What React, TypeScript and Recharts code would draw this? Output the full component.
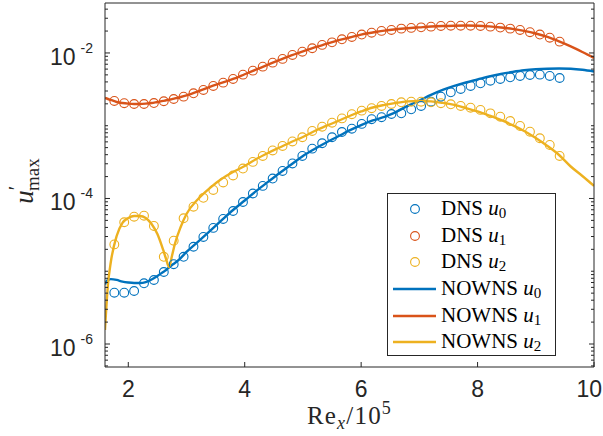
import React from 'react';
import { ComposedChart, Line, Scatter, XAxis, YAxis, Legend } from 'recharts';

const BLUE = '#0072BD';
const ORANGE = '#D95319';
const YELLOW = '#EDB120';
const AXIS = '#262626';
const SERIF = '"Liberation Serif", "Times New Roman", serif';
const SANS = '"Liberation Sans", Arial, Helvetica, sans-serif';

const CHART_W = 603;
const CHART_H = 436;
const X_DOMAIN = [1.6, 10];
const Y_DOMAIN = [4.83e-7, 4.86e-2];

const xTicks = [2, 4, 6, 8, 10];
const topTicks = [2, 4, 6, 8];
const yTicks = [1e-6, 1e-4, 1e-2];
const yTickExp = ['-6', '-4', '-2'];

// DNS sample positions (Re_x / 1e5)
const dnsX = [
  1.76, 1.93, 2.1, 2.27, 2.44, 2.61, 2.78, 2.95, 3.12, 3.29, 3.46, 3.63, 3.8, 3.97, 4.14, 4.31,
  4.48, 4.65, 4.82, 4.99, 5.16, 5.33, 5.5, 5.67, 5.84, 6.01, 6.18, 6.35, 6.52, 6.69, 6.86, 7.03,
  7.2, 7.37, 7.54, 7.71, 7.88, 8.05, 8.22, 8.39, 8.56, 8.73, 8.9, 9.07, 9.24, 9.41,
];

const dnsU0 = [
  5.07e-6, 5.07e-6, 5.35e-6, 6.83e-6, 7.58e-6, 9.77e-6, 1.25e-5, 1.58e-5, 2.17e-5, 2.96e-5,
  3.94e-5, 5.23e-5, 6.73e-5, 8.95e-5, 1.17e-4, 1.49e-4, 1.88e-4, 2.39e-4, 3.03e-4, 3.84e-4,
  4.84e-4, 5.74e-4, 6.94e-4, 8.2e-4, 9.1e-4, 1.06e-3, 1.23e-3, 1.31e-3, 1.45e-3, 1.48e-3,
  1.68e-3, 1.87e-3, 2.14e-3, 2.51e-3, 2.88e-3, 3.2e-3, 3.52e-3, 3.83e-3, 4.16e-3, 4.39e-3,
  4.63e-3, 4.83e-3, 4.98e-3, 5.03e-3, 4.83e-3, 4.53e-3,
];

const dnsU1 = [
  2.19e-3, 2.04e-3, 1.99e-3, 1.99e-3, 2.05e-3, 2.17e-3, 2.33e-3, 2.51e-3, 2.79e-3, 3.1e-3,
  3.52e-3, 3.91e-3, 4.39e-3, 5.03e-3, 5.71e-3, 6.48e-3, 7.36e-3, 8.28e-3, 9.39e-3, 1.04e-2,
  1.16e-2, 1.29e-2, 1.4e-2, 1.54e-2, 1.66e-2, 1.79e-2, 1.9e-2, 2.01e-2, 2.07e-2, 2.16e-2,
  2.21e-2, 2.25e-2, 2.3e-2, 2.35e-2, 2.37e-2, 2.37e-2, 2.37e-2, 2.35e-2, 2.3e-2, 2.23e-2,
  2.16e-2, 2.07e-2, 1.93e-2, 1.79e-2, 1.62e-2, 1.43e-2,
];

const dnsU2 = [
  2.34e-5, 4.71e-5, 5.62e-5, 5.8e-5, 4.19e-5, 1.58e-5, 2.63e-5, 5.34e-5, 7.71e-5, 1.02e-4,
  1.31e-4, 1.66e-4, 2.07e-4, 2.58e-4, 3.18e-4, 3.84e-4, 4.57e-4, 5.27e-4, 6.08e-4, 6.94e-4,
  8.47e-4, 9.7e-4, 1.1e-3, 1.26e-3, 1.44e-3, 1.61e-3, 1.74e-3, 1.87e-3, 1.99e-3, 2.1e-3,
  2.14e-3, 2.14e-3, 2.1e-3, 2.04e-3, 1.97e-3, 1.87e-3, 1.77e-3, 1.65e-3, 1.48e-3, 1.33e-3,
  1.16e-3, 9.93e-4, 8.28e-4, 6.73e-4, 5.44e-4, 3.84e-4,
];

// NOWNS curve positions
const lineX = [
  1.6, 1.65, 1.7, 1.8, 1.9, 2.0, 2.1, 2.2, 2.3, 2.4, 2.5, 2.6, 2.65, 2.7, 2.75, 2.8, 2.9,
  3.0, 3.2, 3.4, 3.6, 3.8, 4.0, 4.2, 4.4, 4.6, 4.8, 5.0, 5.2, 5.4, 5.6, 5.8, 6.0, 6.2, 6.4,
  6.6, 6.8, 7.0, 7.2, 7.4, 7.6, 7.8, 8.0, 8.2, 8.4, 8.6, 8.8, 9.0, 9.2, 9.4, 9.6, 9.8, 10.0,
];

const nownsU0 = [
  6.6e-6, 7.6e-6, 7.8e-6, 7.6e-6, 7.2e-6, 7.0e-6, 6.9e-6, 6.9e-6, 7.1e-6, 7.7e-6, 8.6e-6,
  9.8e-6, 1.04e-5, 1.13e-5, 1.22e-5, 1.3e-5, 1.52e-5,
  1.84e-5, 2.56e-5, 3.57e-5, 4.99e-5, 6.95e-5, 9.39e-5, 1.27e-4, 1.69e-4, 2.24e-4, 2.93e-4,
  3.84e-4, 4.79e-4, 5.89e-4, 7.11e-4, 8.61e-4, 1.02e-3, 1.18e-3, 1.32e-3, 1.55e-3, 1.87e-3,
  2.22e-3, 2.65e-3, 3.1e-3, 3.52e-3, 3.93e-3, 4.32e-3, 4.75e-3, 5.14e-3, 5.48e-3, 5.78e-3,
  5.97e-3, 6.08e-3, 6.12e-3, 6.06e-3, 5.87e-3, 5.57e-3,
];

const nownsU1 = [
  2.41e-3, 2.33e-3, 2.26e-3, 2.12e-3, 2.05e-3, 2.01e-3, 1.99e-3, 1.99e-3, 2.01e-3, 2.05e-3,
  2.12e-3, 2.19e-3, 2.24e-3, 2.28e-3, 2.32e-3, 2.37e-3, 2.48e-3,
  2.61e-3, 2.96e-3, 3.41e-3, 3.87e-3, 4.39e-3, 5.1e-3, 5.93e-3, 6.9e-3, 8.01e-3, 9.25e-3,
  1.05e-2, 1.19e-2, 1.33e-2, 1.49e-2, 1.63e-2, 1.79e-2, 1.91e-2, 2.03e-2, 2.12e-2, 2.19e-2,
  2.25e-2, 2.31e-2, 2.35e-2, 2.37e-2, 2.38e-2, 2.37e-2, 2.32e-2, 2.24e-2, 2.14e-2, 2.01e-2,
  1.85e-2, 1.66e-2, 1.44e-2, 1.23e-2, 1.03e-2, 8.54e-3,
];

const nownsU2 = [
  1.56e-6, 6.47e-6, 1.34e-5, 3.05e-5, 4.61e-5, 5.4e-5, 5.75e-5, 5.75e-5, 5.4e-5, 4.46e-5,
  3.25e-5, 1.96e-5, 1.47e-5, 1.14e-5, 1.62e-5, 2.37e-5, 4.06e-5,
  6.12e-5, 9.84e-5, 1.39e-4, 1.85e-4, 2.31e-4, 2.8e-4, 3.49e-4, 4.22e-4, 5.02e-4, 5.98e-4,
  7.0e-4, 8.47e-4, 9.93e-4, 1.16e-3, 1.36e-3, 1.57e-3, 1.78e-3, 1.93e-3, 2.06e-3, 2.16e-3,
  2.19e-3, 2.16e-3, 2.06e-3, 1.93e-3, 1.75e-3, 1.57e-3, 1.38e-3, 1.2e-3, 1.02e-3, 8.47e-4,
  6.79e-4, 5.27e-4, 3.96e-4, 2.75e-4, 2.04e-4, 1.49e-4,
];

const dns0 = dnsX.map((x, i) => ({ x, y: dnsU0[i] }));
const dns1 = dnsX.map((x, i) => ({ x, y: dnsU1[i] }));
const dns2 = dnsX.map((x, i) => ({ x, y: dnsU2[i] }));
const lineData = lineX.map((x, i) => ({ x, u0: nownsU0[i], u1: nownsU1[i], u2: nownsU2[i] }));

// log minor ticks m x 10^k inside the domain (labelled decades excluded)
const minorTicks: number[] = [];
for (let k = -7; k <= -2; k++) {
  for (let m = 1; m <= 9; m++) {
    const v = m * Math.pow(10, k);
    if (v >= Y_DOMAIN[0] && v <= Y_DOMAIN[1] && !yTicks.some((t) => Math.abs(t - v) / t < 1e-9)) {
      minorTicks.push(v);
    }
  }
}
const allYTicks = [...yTicks, ...minorTicks].sort((a, b) => a - b);

const isMajor = (v: number) => yTicks.findIndex((t) => Math.abs(t - v) / t < 1e-9);

const legendItems = [
  { kind: 'dot', color: BLUE, name: 'DNS', sub: '0' },
  { kind: 'dot', color: ORANGE, name: 'DNS', sub: '1' },
  { kind: 'dot', color: YELLOW, name: 'DNS', sub: '2' },
  { kind: 'line', color: BLUE, name: 'NOWNS', sub: '0' },
  { kind: 'line', color: ORANGE, name: 'NOWNS', sub: '1' },
  { kind: 'line', color: YELLOW, name: 'NOWNS', sub: '2' },
];

const circle = (color: string) => (props: any) => (
  <circle cx={props.cx} cy={props.cy} r={4.4} fill="none" stroke={color} strokeWidth={1.1} />
);

function LeftTick(props: any) {
  const { x, y, payload } = props;
  const idx = isMajor(payload.value);
  return (
    <g>
      <line x1={x} x2={x + (idx >= 0 ? 5 : 3)} y1={y} y2={y} stroke={AXIS} strokeWidth={1} />
      {idx >= 0 && (
        <text x={x - 12} y={y + 12} textAnchor="end" fill={AXIS} fontFamily={SANS}>
          <tspan fontSize={23}>10</tspan>
          <tspan fontSize={14} dx={5} dy={-12}>
            {yTickExp[idx]}
          </tspan>
        </text>
      )}
    </g>
  );
}

function RightTick(props: any) {
  const { x, y, payload } = props;
  const len = isMajor(payload.value) >= 0 ? 5 : 3;
  return <line x1={x} x2={x - len} y1={y} y2={y} stroke={AXIS} strokeWidth={1} />;
}

function BottomTick(props: any) {
  const { x, y, payload } = props;
  const label = String(payload.value);
  // keep the last label inside the picture
  const half = label.length * 6.5;
  const atEdge = x + half > CHART_W - 1;
  return (
    <g>
      <line x1={x} x2={x} y1={y} y2={y - 5} stroke={AXIS} strokeWidth={1} />
      <text
        x={atEdge ? CHART_W - 1 : x}
        y={y + 30}
        textAnchor={atEdge ? 'end' : 'middle'}
        fill={AXIS}
        fontFamily={SANS}
        fontSize={23}
      >
        {label}
      </text>
    </g>
  );
}

function TopTick(props: any) {
  const { x, y } = props;
  return <line x1={x} x2={x} y1={y} y2={y + 5} stroke={AXIS} strokeWidth={1} />;
}

function XLabel(props: any) {
  const vb = props.viewBox || { x: 0, y: 0, width: 0, height: 0 };
  return (
    <text
      x={vb.x + vb.width / 2}
      y={vb.y + 57}
      textAnchor="middle"
      fill={AXIS}
      fontFamily={SERIF}
      fontSize={25}
      letterSpacing={1.2}
    >
      <tspan>Re</tspan>
      <tspan fontSize={18} fontStyle="italic" dy={5}>
        x
      </tspan>
      <tspan dy={-5}>/10</tspan>
      <tspan fontSize={18} dy={-10}>
        5
      </tspan>
    </text>
  );
}

function YLabel(props: any) {
  const vb = props.viewBox || { x: 0, y: 0, width: 0, height: 0 };
  const cy = vb.y + vb.height / 2 - 4;
  return (
    <text transform={`translate(33,${cy}) rotate(-90)`} textAnchor="middle" fill={AXIS} fontFamily={SERIF} fontSize={27}>
      <tspan fontStyle="italic">u</tspan>
      <tspan fontSize={20} dy={-10}>
        ′
      </tspan>
      <tspan fontSize={19} dx={-5} dy={16}>
        max
      </tspan>
    </text>
  );
}

function LegendBox() {
  return (
    <div
      style={{
        width: 169,
        height: 163,
        boxSizing: 'border-box',
        border: `1px solid ${AXIS}`,
        background: '#fff',
        paddingTop: 2,
      }}
    >
      {legendItems.map((it, i) => (
        <div key={i} style={{ display: 'flex', alignItems: 'center', height: 26.6 }}>
          <svg width={53} height={26} style={{ flex: 'none' }}>
            {it.kind === 'dot' ? (
              <circle cx={27} cy={13} r={4.4} fill="none" stroke={it.color} strokeWidth={1.1} />
            ) : (
              <line x1={5} x2={48} y1={13} y2={13} stroke={it.color} strokeWidth={2.4} />
            )}
          </svg>
          <span style={{ fontFamily: SERIF, fontSize: 21, color: '#000', whiteSpace: 'nowrap', lineHeight: '26px' }}>
            {it.name} <i>u</i>
            <span style={{ fontSize: 15, position: 'relative', top: 3 }}>{it.sub}</span>
          </span>
        </div>
      ))}
    </div>
  );
}

export default function App() {
  return (
    <div style={{ position: 'absolute', left: 0, top: 0, width: CHART_W, height: CHART_H, background: '#fff' }}>
      <ComposedChart width={CHART_W} height={CHART_H} margin={{ top: 0, right: 0, bottom: 0, left: 0 }}>
        <XAxis
          dataKey="x"
          type="number"
          domain={X_DOMAIN}
          allowDataOverflow
          ticks={xTicks}
          interval={0}
          height={69}
          tickSize={0}
          tickMargin={0}
          tickLine={false}
          axisLine={{ stroke: AXIS, strokeWidth: 1 }}
          tick={<BottomTick />}
          label={<XLabel />}
        />
        <XAxis
          xAxisId="top"
          orientation="top"
          type="number"
          domain={X_DOMAIN}
          allowDataOverflow
          ticks={topTicks}
          interval={0}
          height={3}
          tickSize={0}
          tickMargin={0}
          tickLine={false}
          axisLine={{ stroke: AXIS, strokeWidth: 1 }}
          tick={<TopTick />}
        />
        <YAxis
          type="number"
          scale="log"
          domain={Y_DOMAIN}
          allowDataOverflow
          ticks={allYTicks}
          interval={0}
          width={105}
          tickSize={0}
          tickMargin={0}
          tickLine={false}
          axisLine={{ stroke: AXIS, strokeWidth: 1 }}
          tick={<LeftTick />}
          label={<YLabel />}
        />
        <YAxis
          yAxisId="right"
          orientation="right"
          type="number"
          scale="log"
          domain={Y_DOMAIN}
          allowDataOverflow
          ticks={allYTicks}
          interval={0}
          width={9}
          tickSize={0}
          tickMargin={0}
          tickLine={false}
          axisLine={{ stroke: AXIS, strokeWidth: 1 }}
          tick={<RightTick />}
        />
        <Scatter name="DNS u0" data={dns0} dataKey="y" shape={circle(BLUE)} isAnimationActive={false} />
        <Scatter name="DNS u1" data={dns1} dataKey="y" shape={circle(ORANGE)} isAnimationActive={false} />
        <Scatter name="DNS u2" data={dns2} dataKey="y" shape={circle(YELLOW)} isAnimationActive={false} />
        <Line name="NOWNS u0" data={lineData} dataKey="u0" type="monotone" stroke={BLUE} strokeWidth={2.4} dot={false} activeDot={false} isAnimationActive={false} />
        <Line name="NOWNS u1" data={lineData} dataKey="u1" type="monotone" stroke={ORANGE} strokeWidth={2.4} dot={false} activeDot={false} isAnimationActive={false} />
        <Line name="NOWNS u2" data={lineData} dataKey="u2" type="monotone" stroke={YELLOW} strokeWidth={2.4} dot={false} activeDot={false} isAnimationActive={false} />
        <Legend
          layout="vertical"
          verticalAlign="middle"
          align="center"
          wrapperStyle={{ left: 387, top: 193, width: 169, height: 163 }}
          content={() => <LegendBox />}
        />
      </ComposedChart>
    </div>
  );
}
